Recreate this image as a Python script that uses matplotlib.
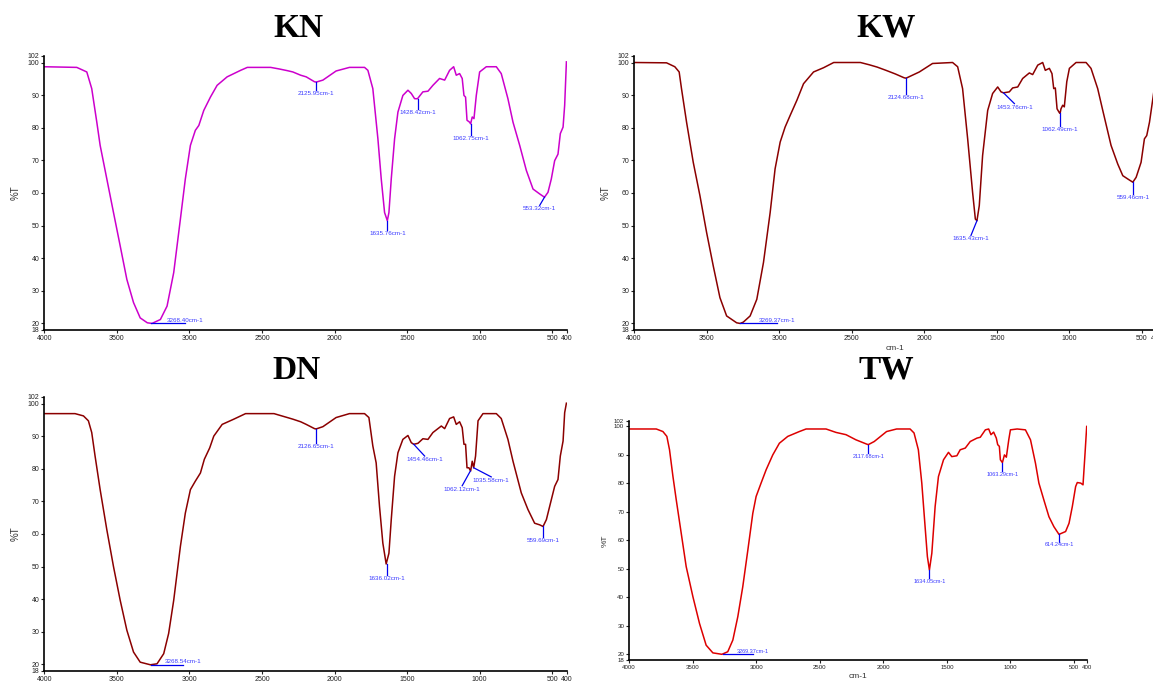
import numpy as np
import matplotlib
matplotlib.use("Agg")
import matplotlib.pyplot as plt

plt.rcParams["font.family"] = ["Liberation Sans", "DejaVu Sans"]

# ---- spectra (wavenumber cm-1, %T) ----
kn_wn = [4000, 3776, 3707, 3673, 3638, 3615, 3569, 3523, 3477, 3431, 3385, 3339, 3290, 3258, 3200, 3154,
         3108, 3062, 3028, 2993, 2959, 2935, 2901, 2855, 2809, 2740, 2647, 2601, 2440, 2379, 2325, 2287,
         2233, 2195, 2138, 2126, 2080, 1989, 1897, 1793, 1770, 1736, 1701, 1678, 1655, 1636, 1625, 1609,
         1586, 1563, 1529, 1494, 1471, 1448, 1428, 1391, 1356, 1322, 1276, 1241, 1207, 1179, 1161, 1138,
         1120, 1108, 1097, 1087, 1069, 1062, 1051, 1039, 1023, 1000, 954, 885, 851, 805, 770, 724, 678,
         632, 586, 553, 529, 506, 483, 460, 444, 425, 414, 402]
kn_t = [98.7, 98.5, 97.1, 92, 81.7, 74.6, 64.3, 54, 43.8, 33.5, 26.4, 21.7, 20.2, 20.0, 21.2, 25.3,
        35.6, 52, 64.3, 74.6, 79.2, 80.7, 85.3, 89.4, 93, 95.6, 97.6, 98.5, 98.5, 98.0, 97.5, 97.1,
        96.1, 95.6, 94.1, 94.0, 94.6, 97.4, 98.5, 98.5, 97.6, 92, 76.6, 64.3, 54, 51.5, 54, 64.3,
        76.6, 84.8, 89.9, 91.5, 90.5, 88.9, 88.9, 91, 91.2, 93, 95.1, 94.6, 97.6, 98.7, 96.1, 96.6,
        95.1, 89.9, 89.4, 82.3, 81.7, 81.2, 83.3, 82.8, 89.9, 97.1, 98.7, 98.7, 96.6, 88.9, 81.7, 74.6, 66.9,
        61.2, 59.7, 58.7, 60.2, 64.3, 69.9, 71.9, 78.2, 80.2, 86.9, 100.2]

kw_wn = [4000, 3776, 3719, 3689, 3673, 3638, 3592, 3546, 3500, 3454, 3408, 3362, 3293, 3269, 3247, 3200,
         3154, 3108, 3062, 3028, 2993, 2959, 2924, 2878, 2832, 2763, 2694, 2624, 2440, 2379, 2325, 2264,
         2200, 2138, 2125, 2034, 1943, 1805, 1770, 1736, 1701, 1667, 1648, 1637, 1621, 1598, 1563, 1529,
         1494, 1471, 1454, 1414, 1391, 1356, 1322, 1276, 1253, 1218, 1184, 1166, 1138, 1120, 1108, 1097,
         1085, 1069, 1064, 1058, 1046, 1035, 1018, 1000, 954, 885, 851, 805, 770, 713, 667, 632, 598, 563,
         540, 506, 483, 467, 448, 428, 412, 402]
kw_t = [100, 99.9, 98.7, 97.1, 92, 81.7, 69.4, 59.2, 47.9, 37.6, 27.9, 22.3, 20.2, 20.0, 20.4, 22.3,
        27.4, 38.7, 54, 67.4, 75.6, 80.2, 83.8, 88.4, 93.5, 97.1, 98.4, 100, 100, 99.3, 98.6, 97.6,
        96.5, 95.3, 95.2, 97.1, 99.7, 100, 98.7, 92, 76.6, 60.2, 52, 51.5, 56.1, 71.5, 85.3, 90.5,
        92.5, 91, 90.7, 91, 92.2, 92.5, 95.1, 96.8, 96.3, 99.2, 100, 97.6, 98.2, 96.6, 92, 92.2,
        85.8, 84.6, 84.4, 85.8, 86.9, 86.4, 94.1, 98.2, 100, 100, 98.2, 92, 85.3, 74.6, 68.9, 65.3, 64.3, 63.3,
        64.8, 69.4, 76.6, 77.6, 81.7, 87.9, 93, 99]

dn_wn = [4000, 3788, 3730, 3696, 3673, 3650, 3615, 3569, 3523, 3477, 3431, 3385, 3339, 3269, 3223, 3177,
         3143, 3108, 3062, 3028, 2993, 2959, 2924, 2897, 2860, 2832, 2774, 2694, 2613, 2417, 2379, 2325,
         2287, 2233, 2195, 2138, 2127, 2080, 1989, 1897, 1793, 1763, 1736, 1713, 1690, 1667, 1644, 1625,
         1609, 1586, 1563, 1529, 1494, 1471, 1454, 1425, 1391, 1356, 1322, 1264, 1241, 1207, 1179, 1161,
         1138, 1120, 1108, 1097, 1087, 1074, 1062, 1051, 1041, 1028, 1011, 977, 885, 851, 805, 770, 713,
         667, 621, 586, 563, 540, 506, 483, 460, 444, 425, 414, 402]
dn_t = [96.9, 96.9, 96.2, 94.7, 91.1, 83.9, 73.6, 61.3, 50, 39.7, 30.5, 23.8, 20.7, 19.9, 20.2, 23.3,
        29.5, 39.7, 56.2, 66.4, 73.6, 76.2, 78.7, 82.9, 86.4, 90, 93.6, 95.2, 96.9, 96.9, 96.4, 95.7,
        95.2, 94.4, 93.6, 92.3, 92.2, 92.9, 95.7, 96.9, 96.9, 95.7, 87, 81.8, 68.5, 57.2, 50.8, 54.1,
        64.4, 77.7, 84.9, 89, 90.2, 88, 87.5, 87.8, 89.2, 89, 91.1, 93.1, 92.3, 95.4, 95.9, 93.6,
        94.4, 92.6, 87.5, 87.5, 80.3, 80.3, 79.3, 82.3, 80.3, 83.9, 94.7, 96.9, 96.9, 95.4, 89, 82.3, 72.6,
        67.5, 63.3, 62.8, 62.3, 64.4, 70.5, 74.6, 76.7, 83.9, 88.5, 97.2, 100.1]

tw_wn = [4000, 3785, 3733, 3702, 3681, 3654, 3628, 3589, 3550, 3497, 3445, 3393, 3340, 3269, 3223, 3183,
         3144, 3105, 3065, 3026, 3000, 2961, 2921, 2869, 2817, 2751, 2660, 2607, 2450, 2372, 2293, 2215,
         2131, 2118, 2071, 1974, 1895, 1789, 1758, 1724, 1697, 1671, 1653, 1637, 1618, 1592, 1566, 1526,
         1487, 1461, 1421, 1395, 1355, 1316, 1263, 1237, 1197, 1171, 1153, 1132, 1111, 1100, 1087, 1079,
         1063, 1047, 1032, 1013, 1000, 947, 882, 842, 803, 776, 737, 697, 658, 618, 566, 539, 513, 487,
         474, 447, 429, 413, 400]
tw_t = [99.1, 99.1, 98.2, 96.5, 91.8, 82.4, 74.2, 62.5, 50.8, 40.2, 30.8, 23.2, 20.5, 20.0, 20.9, 25,
        33.2, 43.7, 56.6, 69.5, 75.4, 80.1, 84.8, 90, 94.1, 96.5, 98.2, 99.1, 99.1, 97.9, 97.1, 95.3,
        93.8, 93.6, 94.7, 98.2, 99.1, 99.1, 97.7, 91.8, 80.1, 64.8, 54.3, 49.6, 55.5, 71.9, 82.4, 88.3,
        90.9, 89.4, 89.7, 91.8, 92.4, 94.7, 95.9, 96.2, 98.8, 99.1, 97.1, 98, 95.9, 93.6, 93, 88.3,
        87.3, 90, 89.2, 95.3, 98.8, 99.1, 98.8, 95.3, 87.1, 80.1, 74.2, 68.3, 64.8, 62.1, 63.1, 66, 71.9, 78.9,
        80.3, 80.1, 79.5, 90.6, 100]

# ---- peak labels: text, peak x, peak y, leader end x, leader end y ----
kn_peaks = [("3268.40cm-1", 3268, 20.0, 3030, 20.0), ("2125.95cm-1", 2126, 94.0, 2126, 91.5),
            ("1635.76cm-1", 1636, 51.5, 1636, 48.6), ("1428.42cm-1", 1428, 88.9, 1428, 85.8),
            ("1062.75cm-1", 1062, 81.2, 1062, 77.8), ("553.32cm-1", 553, 58.7, 586, 56.2)]
kw_peaks = [("3269.37cm-1", 3269, 20.0, 3016, 20.0), ("2124.68cm-1", 2125, 95.2, 2125, 90.3),
            ("1635.43cm-1", 1637, 51.5, 1678, 47.0), ("1453.76cm-1", 1454, 90.7, 1379, 87.4),
            ("1062.49cm-1", 1064, 84.4, 1064, 80.6), ("559.46cm-1", 563, 63.3, 563, 59.8)]
dn_peaks = [("3268.54cm-1", 3268, 19.9, 3044, 19.9), ("2126.65cm-1", 2127, 92.2, 2127, 88.0),
            ("1636.02cm-1", 1640, 50.8, 1640, 47.4), ("1454.46cm-1", 1454, 87.5, 1379, 83.9),
            ("1062.12cm-1", 1064, 79.3, 1120, 74.8), ("1035.58cm-1", 1041, 80.3, 920, 77.5),
            ("559.69cm-1", 563, 62.3, 563, 59.2)]
tw_peaks = [("3269.37cm-1", 3262, 20.0, 3026, 20.0), ("2117.68cm-1", 2118, 93.6, 2118, 90.6),
            ("1634.05cm-1", 1637, 49.6, 1637, 46.7), ("1063.29cm-1", 1063, 87.3, 1063, 84.2),
            ("614.24cm-1", 618, 62.1, 618, 59.6)]

x_ticks = [4000, 3500, 3000, 2500, 2000, 1500, 1000, 500, 400]
y_ticks = [18, 20, 30, 40, 50, 60, 70, 80, 90, 100, 102]

fig = plt.figure(figsize=(11.53, 6.86), dpi=100)


def panel(rect, wn, t, peaks, color, title, title_xy, small=False, xlabel=True):
    ax = fig.add_axes(rect)
    ax.plot(wn, t, color=color, lw=1.1)
    ax.set_xlim(4000, 400)
    ax.set_ylim(18, 102)
    ax.set_xticks(x_ticks)
    ax.set_yticks(y_ticks)
    for s in ["top", "right"]:
        ax.spines[s].set_visible(False)
    for s in ["left", "bottom"]:
        ax.spines[s].set_linewidth(1.2)
    fs = 4.4 if small else 5
    ax.tick_params(length=2.5, width=0.8, labelsize=fs, pad=1, colors="#222222")
    ax.set_ylabel("%T", fontsize=6 if small else 7, labelpad=4 if small else 5, color="#333333")
    if xlabel:
        ax.set_xlabel("cm-1", fontsize=6, labelpad=2, color="#333333")
    lfs = 4.0 if small else 4.5
    for txt, px, py, ex, ey in peaks:
        ax.plot([px, ex], [py, ey], color="#0000ee", lw=0.9)
        if ey == py:
            ax.text(ex, py + 0.4, txt, ha="center", va="baseline", fontsize=lfs, color="#3a3aff")
        else:
            ax.text(ex, ey - 0.3, txt, ha="center", va="top", fontsize=lfs, color="#3a3aff")
    fig.text(title_xy[0], title_xy[1], title, ha="center", va="center", fontsize=24,
             fontweight="bold", family="Liberation Serif")
    return ax


panel([0.0384, 0.5190, 0.4531, 0.3994], kn_wn, kn_t, kn_peaks, "#cc00cc", "KN", (0.2585, 0.9585), xlabel=False)
panel([0.5499, 0.5190, 0.4531, 0.3994], kw_wn, kw_t, kw_peaks, "#8b0000", "KW", (0.7684, 0.9585))
panel([0.0384, 0.0219, 0.4531, 0.3994], dn_wn, dn_t, dn_peaks, "#8b0000", "DN", (0.2576, 0.4606))
panel([0.5455, 0.0379, 0.3970, 0.3488], tw_wn, tw_t, tw_peaks, "#dd0000", "TW", (0.7684, 0.4606), small=True)

fig.savefig("out.png", dpi=100)
